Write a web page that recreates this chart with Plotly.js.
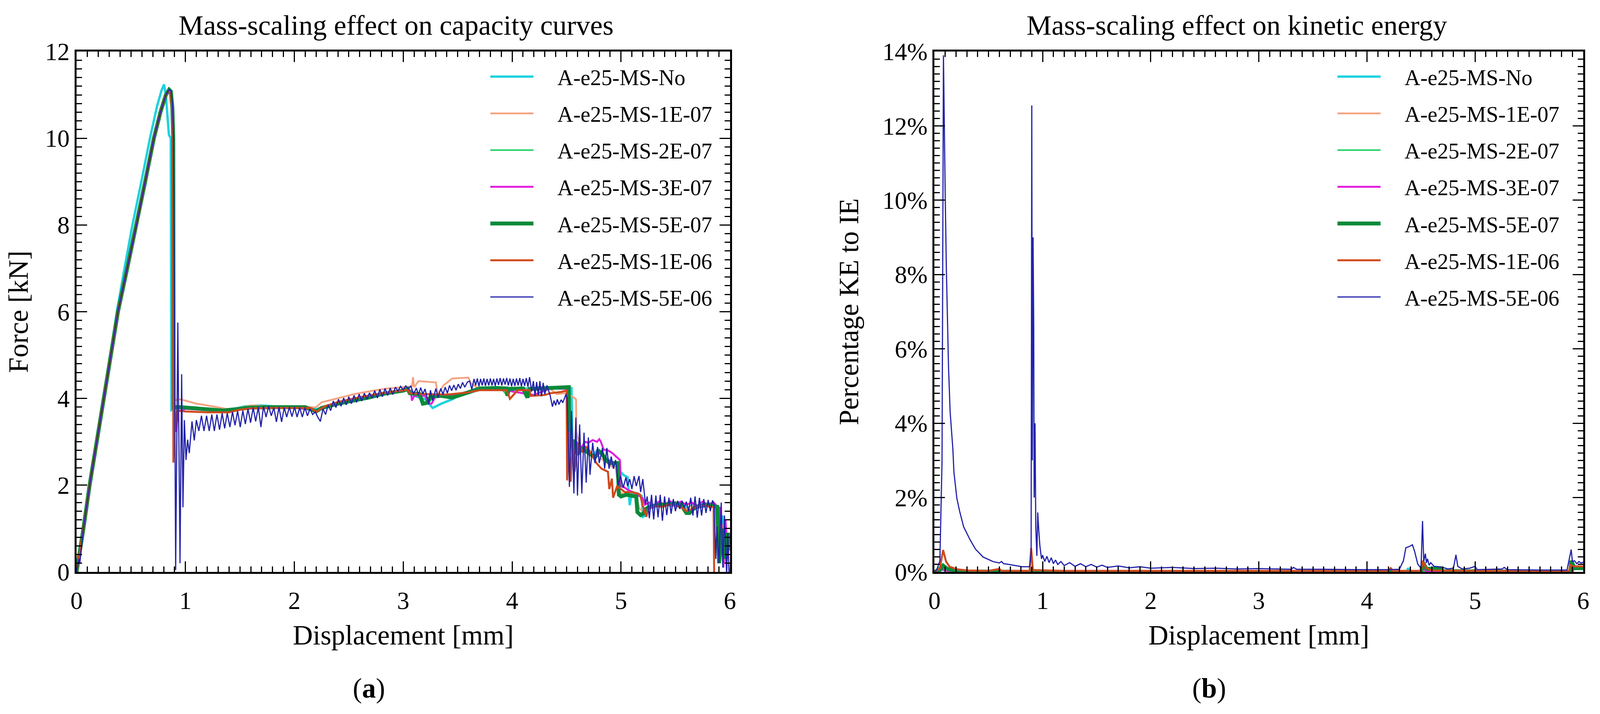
<!DOCTYPE html>
<html>
<head>
<meta charset="utf-8">
<script src="https://cdn.plot.ly/plotly-3.0.1.min.js"></script>
<style>
  html, body { margin: 0; padding: 0; background: #ffffff; overflow: hidden; }
  #chart { width: 100vw; height: 100vh; }
</style>
</head>
<body>
<div id="chart"></div>
<script>
// ---------------- DATA ----------------
const seriesNames = ['A-e25-MS-No','A-e25-MS-1E-07','A-e25-MS-2E-07','A-e25-MS-3E-07','A-e25-MS-5E-07','A-e25-MS-1E-06','A-e25-MS-5E-06'];
const xTickLabels = ['0','1','2','3','4','5','6'];
const forceTickLabels = ['0','2','4','6','8','10','12'];
const keTickLabels = ['0%','2%','4%','6%','8%','10%','12%','14%'];

// (a) Force [kN] vs Displacement [mm]  -- [displacement, force]
const forceNo = [[0,0],[0.03,0.45],[0.06,0.95],[0.12,2.0],[0.18,3.0],[0.245,4.0],[0.31,5.0],[0.37,6.0],[0.44,7.0],[0.513,8.0],[0.595,9.0],[0.674,10.0],[0.74,10.75],[0.78,11.1],[0.803,11.24],[0.82,11.0],[0.835,10.5],[0.848,10.08],[0.865,10.0],[0.871,3.73],[0.90,3.76],[0.95,3.78],[1.1,3.76],[1.3,3.74],[1.45,3.76],[1.55,3.82],[1.7,3.84],[1.8,3.82],[2.0,3.80],[2.2,3.75],[2.3,3.82],[2.5,3.92],[2.7,4.04],[2.9,4.14],[3.0,4.18],[3.05,4.20],[3.1,4.06],[3.2,3.98],[3.27,3.78],[3.35,3.88],[3.45,3.98],[3.5,4.06],[3.6,4.12],[3.7,4.20],[3.8,4.23],[4.0,4.23],[4.14,4.23],[4.15,4.02],[4.17,4.22],[4.3,4.26],[4.45,4.26],[4.545,4.24],[4.555,2.95],[4.58,3.00],[4.62,2.80],[4.66,2.90],[4.70,2.75],[4.74,2.70],[4.78,2.80],[4.82,2.71],[4.84,2.65],[4.88,2.60],[4.92,2.50],[4.95,2.40],[4.98,2.35],[5.02,2.24],[5.06,2.18],[5.08,1.54],[5.10,1.84],[5.15,1.81],[5.19,1.75],[5.20,1.27],[5.23,1.30],[5.26,1.55],[5.30,1.48],[5.34,1.60],[5.38,1.50],[5.42,1.58],[5.46,1.52],[5.50,1.60],[5.54,1.55],[5.58,1.52],[5.62,1.48],[5.66,1.56],[5.70,1.50],[5.74,1.60],[5.78,1.52],[5.82,1.58],[5.86,1.55],[5.88,1.50],[5.90,0.6],[5.93,1.3],[5.96,0.4],[6.0,0.9]];
const force1E07 = [[0,0],[0.03,0.45],[0.06,0.95],[0.12,2.0],[0.185,3.0],[0.25,4.0],[0.315,5.0],[0.38,6.0],[0.465,7.0],[0.55,8.0],[0.63,9.0],[0.71,10.0],[0.77,10.6],[0.82,11.0],[0.85,11.1],[0.865,11.08],[0.878,10.7],[0.885,10.0],[0.888,3.95],[0.95,3.98],[1.0,3.95],[1.1,3.88],[1.2,3.84],[1.3,3.79],[1.4,3.75],[1.5,3.78],[1.6,3.84],[1.7,3.83],[1.8,3.80],[2.0,3.79],[2.15,3.79],[2.2,3.80],[2.25,3.91],[2.4,4.01],[2.55,4.10],[2.7,4.17],[2.85,4.23],[3.0,4.26],[3.08,4.28],[3.09,4.49],[3.10,4.26],[3.14,4.40],[3.30,4.37],[3.315,4.09],[3.37,4.30],[3.45,4.46],[3.60,4.48],[3.62,4.35],[3.70,4.22],[3.8,4.24],[4.0,4.22],[4.2,4.20],[4.35,4.22],[4.41,4.10],[4.48,4.12],[4.55,4.05],[4.587,3.98],[4.59,3.24],[4.62,2.90],[4.66,2.84],[4.70,2.75],[4.74,2.65],[4.78,2.70],[4.82,2.60],[4.86,2.55],[4.90,2.45],[4.95,2.40],[4.98,1.85],[5.02,1.80],[5.08,1.78],[5.14,1.76],[5.17,1.45],[5.21,1.40],[5.25,1.52],[5.30,1.56],[5.35,1.50],[5.40,1.58],[5.45,1.53],[5.50,1.57],[5.55,1.50],[5.60,1.45],[5.65,1.52],[5.70,1.55],[5.75,1.50],[5.80,1.57],[5.85,1.52],[5.88,1.50],[5.90,0.4],[5.93,1.1],[5.96,0.2],[6.0,0.8]];
const force2E07 = [[0,0],[0.03,0.45],[0.06,0.95],[0.12,2.0],[0.185,3.0],[0.25,4.0],[0.315,5.0],[0.38,6.0],[0.465,7.0],[0.55,8.0],[0.63,9.0],[0.71,10.0],[0.77,10.6],[0.82,11.0],[0.85,11.12],[0.866,11.08],[0.878,10.7],[0.886,10.0],[0.89,3.78],[0.95,3.80],[1.1,3.77],[1.25,3.74],[1.4,3.73],[1.55,3.78],[1.7,3.80],[1.9,3.80],[2.1,3.79],[2.2,3.71],[2.27,3.80],[2.45,3.90],[2.6,3.98],[2.8,4.10],[3.0,4.18],[3.04,4.21],[3.07,4.10],[3.16,4.08],[3.19,3.90],[3.24,3.92],[3.28,4.05],[3.45,4.05],[3.6,4.14],[3.7,4.22],[3.9,4.23],[3.95,4.08],[3.98,4.22],[4.12,4.22],[4.14,4.04],[4.17,4.22],[4.35,4.24],[4.52,4.25],[4.53,2.95],[4.56,3.02],[4.60,2.74],[4.64,2.86],[4.68,2.76],[4.72,2.72],[4.76,2.66],[4.80,2.76],[4.84,2.70],[4.88,2.60],[4.93,2.52],[4.97,2.50],[4.98,1.80],[5.02,1.76],[5.07,1.79],[5.12,1.75],[5.145,1.74],[5.155,1.36],[5.19,1.32],[5.22,1.42],[5.26,1.52],[5.32,1.54],[5.38,1.56],[5.44,1.55],[5.50,1.57],[5.56,1.52],[5.60,1.37],[5.64,1.38],[5.68,1.48],[5.74,1.52],[5.80,1.54],[5.86,1.52],[5.885,1.50],[5.90,0.3],[5.93,1.0],[5.96,0.35],[6.0,0.7]];
const force3E07 = [[0,0],[0.03,0.45],[0.06,0.95],[0.12,2.0],[0.185,3.0],[0.25,4.0],[0.315,5.0],[0.38,6.0],[0.465,7.0],[0.55,8.0],[0.63,9.0],[0.71,10.0],[0.77,10.6],[0.82,11.0],[0.85,11.12],[0.866,11.1],[0.88,10.8],[0.895,10.2],[0.90,3.3],[0.915,3.24],[0.93,3.70],[1.0,3.76],[1.2,3.73],[1.4,3.72],[1.6,3.78],[1.8,3.80],[2.0,3.79],[2.2,3.72],[2.3,3.80],[2.5,3.92],[2.7,4.03],[2.9,4.13],[3.0,4.18],[3.07,4.18],[3.08,3.95],[3.10,4.06],[3.2,4.06],[3.23,3.88],[3.26,3.88],[3.3,4.06],[3.5,4.10],[3.6,4.16],[3.7,4.23],[3.95,4.20],[4.0,4.16],[4.1,4.12],[4.2,4.08],[4.35,4.23],[4.50,4.22],[4.505,4.2],[4.515,2.3],[4.54,3.2],[4.56,2.5],[4.59,3.0],[4.63,2.85],[4.67,3.00],[4.70,2.98],[4.74,3.04],[4.78,3.00],[4.80,3.06],[4.815,3.00],[4.84,2.82],[4.88,2.80],[4.92,2.74],[4.96,2.64],[4.99,2.58],[5.0,1.97],[5.03,1.95],[5.07,1.88],[5.11,1.84],[5.15,1.78],[5.20,1.70],[5.22,1.55],[5.26,1.60],[5.30,1.52],[5.35,1.62],[5.40,1.55],[5.45,1.63],[5.50,1.56],[5.55,1.62],[5.60,1.55],[5.65,1.60],[5.70,1.52],[5.75,1.62],[5.80,1.55],[5.85,1.60],[5.87,1.55],[5.89,0.5],[5.91,1.5],[5.94,0.1],[5.96,1.2],[5.98,0.3],[6.0,0.9]];
const force5E07 = [[0,0],[0.03,0.45],[0.06,0.95],[0.12,2.0],[0.185,3.0],[0.25,4.0],[0.315,5.0],[0.38,6.0],[0.465,7.0],[0.55,8.0],[0.63,9.0],[0.71,10.0],[0.77,10.6],[0.82,11.0],[0.85,11.12],[0.866,11.08],[0.88,10.7],[0.888,10.0],[0.892,3.80],[0.95,3.80],[1.1,3.78],[1.2,3.75],[1.35,3.72],[1.5,3.76],[1.6,3.79],[1.8,3.80],[2.0,3.79],[2.1,3.80],[2.2,3.70],[2.25,3.78],[2.4,3.88],[2.5,3.92],[2.6,3.98],[2.7,4.03],[2.8,4.10],[2.9,4.14],[3.0,4.18],[3.04,4.22],[3.06,4.12],[3.15,4.10],[3.18,3.88],[3.22,3.90],[3.25,4.04],[3.35,4.06],[3.45,4.02],[3.55,4.10],[3.65,4.18],[3.7,4.23],[3.85,4.24],[3.95,4.23],[3.956,4.06],[3.97,4.22],[4.1,4.23],[4.14,4.02],[4.16,4.22],[4.3,4.24],[4.4,4.26],[4.52,4.26],[4.525,2.90],[4.56,3.04],[4.60,2.71],[4.64,2.84],[4.68,2.78],[4.72,2.71],[4.76,2.64],[4.80,2.78],[4.83,2.71],[4.86,2.58],[4.90,2.51],[4.94,2.51],[4.97,2.51],[4.98,1.78],[5.0,1.74],[5.05,1.78],[5.10,1.76],[5.14,1.74],[5.15,1.38],[5.18,1.31],[5.21,1.35],[5.22,1.44],[5.26,1.50],[5.30,1.52],[5.35,1.55],[5.40,1.55],[5.45,1.56],[5.50,1.58],[5.55,1.55],[5.60,1.36],[5.63,1.36],[5.66,1.45],[5.70,1.50],[5.75,1.52],[5.80,1.55],[5.85,1.52],[5.885,1.50],[5.90,0.2],[5.93,1.0],[5.95,0.3],[5.98,0.9],[6.0,0.5]];
const force1E06 = [[0,0],[0.03,0.45],[0.06,0.95],[0.12,2.0],[0.185,3.0],[0.25,4.0],[0.315,5.0],[0.38,6.0],[0.465,7.0],[0.55,8.0],[0.63,9.0],[0.71,10.0],[0.77,10.6],[0.82,11.0],[0.85,11.1],[0.865,11.05],[0.878,10.6],[0.885,10.0],[0.889,2.52],[0.90,3.30],[0.92,3.72],[1.0,3.70],[1.2,3.68],[1.4,3.68],[1.5,3.74],[1.6,3.77],[1.8,3.78],[2.0,3.78],[2.15,3.78],[2.2,3.69],[2.28,3.82],[2.4,3.92],[2.6,4.03],[2.8,4.12],[3.0,4.18],[3.04,4.20],[3.06,4.12],[3.2,4.10],[3.4,4.09],[3.6,4.14],[3.7,4.19],[3.95,4.19],[3.98,3.99],[4.05,4.19],[4.16,4.19],[4.17,4.06],[4.30,4.08],[4.35,4.12],[4.45,4.15],[4.50,4.18],[4.505,2.11],[4.52,3.24],[4.538,2.08],[4.555,3.04],[4.573,2.31],[4.608,2.98],[4.644,2.78],[4.68,2.88],[4.715,2.78],[4.774,2.51],[4.821,2.38],[4.88,2.31],[4.892,1.91],[4.916,2.15],[4.927,1.71],[4.963,1.97],[5.0,1.91],[5.034,1.84],[5.093,1.84],[5.152,1.81],[5.175,1.78],[5.199,1.54],[5.234,1.27],[5.246,1.44],[5.27,1.47],[5.32,1.52],[5.38,1.50],[5.44,1.55],[5.50,1.52],[5.56,1.48],[5.60,1.40],[5.65,1.45],[5.70,1.50],[5.76,1.53],[5.82,1.50],[5.85,1.50],[5.856,-0.25]];
const force5E06 = [[0,0],[0.02,0.3],[0.03,0.2],[0.06,0.95],[0.12,2.0],[0.185,3.0],[0.25,4.0],[0.315,5.0],[0.38,6.0],[0.465,7.0],[0.55,8.0],[0.63,9.0],[0.71,10.0],[0.77,10.6],[0.82,11.0],[0.85,11.12],[0.866,11.1],[0.88,10.8],[0.89,10.0],[0.91,0.04],[0.93,5.75],[0.95,0.2],[0.965,4.56],[0.977,1.49],[0.99,3.5],[1.005,2.58],[1.02,3.05],[1.035,2.74],[1.06,3.47],[1.081,3.03],[1.10,3.50],
[1.123,3.25],[1.147,3.60],[1.170,3.25],[1.194,3.60],[1.218,3.25],[1.242,3.63],[1.265,3.25],[1.289,3.63],[1.313,3.28],[1.337,3.66],[1.360,3.31],[1.384,3.66],[1.408,3.34],[1.432,3.69],[1.455,3.38],[1.479,3.71],[1.503,3.34],[1.527,3.72],[1.550,3.41],[1.574,3.76],[1.598,3.44],[1.622,3.79],[1.645,3.47],[1.669,3.80],[1.693,3.34],[1.717,3.82],[1.740,3.57],[1.764,3.82],[1.788,3.60],[1.812,3.79],[1.835,3.46],[1.859,3.80],[1.883,3.46],[1.907,3.79],[1.930,3.57],[1.954,3.80],[1.978,3.58],[2.002,3.80],[2.025,3.57],[2.049,3.79],[2.073,3.57],[2.097,3.79],[2.120,3.60],[2.144,3.76],[2.168,3.63],[2.192,3.69],[2.215,3.57],[2.239,3.47],[2.263,3.76],[2.287,3.63],[2.310,3.85],[2.334,3.72],[2.358,3.94],[2.382,3.79],[2.405,3.98],[2.429,3.82],[2.453,4.01],[2.477,3.85],[2.500,4.04],[2.524,3.88],[2.548,4.07],[2.572,3.91],[2.595,4.10],[2.619,3.94],[2.643,4.12],[2.667,3.98],[2.690,4.13],[2.714,4.01],[2.738,4.18],[2.762,4.01],[2.785,4.21],[2.809,4.04],[2.833,4.23],[2.857,4.07],[2.880,4.24],[2.904,4.09],[2.928,4.26],[2.952,4.17],[2.975,4.28],[2.999,4.20],[3.023,4.29],[3.047,4.22],[3.070,4.29],[3.094,4.10],
[3.12,4.24],[3.14,4.08],[3.16,4.25],[3.18,4.10],[3.20,4.22],[3.234,3.87],[3.25,4.19],[3.27,3.95],[3.30,4.23],[3.32,4.02],[3.345,4.23],[3.365,4.09],[3.385,4.26],[3.405,4.12],[3.425,4.30],[3.445,4.18],[3.465,4.31],[3.485,4.19],[3.505,4.33],[3.525,4.23],[3.545,4.37],[3.565,4.26],[3.59,4.38],[3.61,4.40],[3.63,4.21],[3.65,4.45],[3.665,4.30],[3.68,4.46],[3.695,4.28],[3.71,4.45],[3.725,4.30],[3.74,4.46],[3.755,4.29],[3.77,4.45],[3.785,4.30],[3.80,4.46],[3.815,4.30],[3.83,4.45],[3.845,4.29],[3.86,4.46],[3.875,4.31],[3.89,4.47],[3.905,4.30],[3.92,4.46],[3.935,4.32],[3.95,4.47],[3.965,4.30],[3.98,4.46],[3.995,4.28],[4.01,4.45],[4.025,4.29],[4.04,4.46],[4.055,4.30],[4.07,4.47],[4.085,4.28],[4.10,4.45],[4.115,4.29],[4.13,4.47],[4.145,4.27],[4.16,4.49],[4.18,4.16],[4.195,4.40],[4.21,4.06],[4.225,4.38],[4.24,4.08],[4.255,4.40],[4.27,4.05],[4.285,4.36],[4.30,4.10],[4.32,4.30],[4.35,4.06],[4.37,3.81],[4.385,3.95],[4.40,3.84],[4.415,3.98],[4.43,3.86],[4.45,3.97],[4.465,3.90],[4.48,4.00],[4.495,4.10],[4.505,4.0],
[4.526,1.96],[4.545,3.71],[4.567,1.81],[4.585,3.56],[4.60,1.76],[4.62,3.40],[4.64,1.81],[4.66,3.21],[4.68,2.06],[4.70,3.10],[4.715,2.24],[4.74,2.98],[4.76,2.51],[4.785,2.88],[4.80,2.51],[4.83,2.86],[4.85,2.38],[4.87,2.86],[4.89,2.38],[4.91,2.66],[4.93,2.38],[4.95,2.58],[4.975,2.0],[4.995,2.21],[5.02,1.94],[5.045,2.18],[5.06,1.98],[5.08,2.14],[5.10,1.91],[5.12,2.21],[5.14,1.98],[5.165,2.21],[5.18,1.84],[5.20,2.14],[5.225,1.56],[5.24,1.74],[5.26,1.24],[5.28,1.78],[5.30,1.21],[5.32,1.76],[5.34,1.26],[5.36,1.78],[5.38,1.18],[5.40,1.74],[5.42,1.31],[5.44,1.71],[5.46,1.34],[5.48,1.68],[5.50,1.40],[5.52,1.64],[5.54,1.45],[5.56,1.64],[5.58,1.48],[5.60,1.62],[5.62,1.40],[5.64,1.71],[5.66,1.30],[5.68,1.74],[5.70,1.25],[5.72,1.71],[5.74,1.30],[5.76,1.68],[5.78,1.36],[5.80,1.66],[5.82,1.40],[5.84,1.65],[5.855,1.55],[5.87,0.3],[5.88,1.05],[5.90,0.2],[5.92,1.6],[5.935,0.1],[5.95,1.3],[5.97,-0.1],[5.98,0.9],[5.995,-0.3],[6.01,0.5]];

// (b) Percentage KE to IE [%] vs Displacement [mm]  -- [displacement, percent]
const keNo = [[0,0],[0.04,0.10],[0.08,0.05],[0.2,0.01],[4.37,0.01],[4.38,0.10],[4.40,0.01],[5.90,0.01],[5.92,0.15],[6.0,0.12]];
const ke1E07 = [[0,0],[0.06,0.10],[0.15,0.02],[0.89,0.02],[0.90,0.10],[0.92,0.02],[4.58,0.02],[4.60,0.12],[4.65,0.02],[5.90,0.02],[5.92,0.12],[6.0,0.10]];
const ke2E07 = [[0,0],[0.04,0.12],[0.10,0.04],[0.20,0.01],[5.90,0.01],[5.92,0.10],[6.0,0.08]];
const ke3E07 = [[0,0],[0.05,0.08],[0.12,0.03],[0.30,0.01],[4.50,0.01],[4.51,0.10],[4.55,0.02],[5.90,0.02],[5.92,0.10],[6.0,0.08]];
const ke5E07 = [[0,0],[0.05,0.05],[0.08,0.17],[0.12,0.08],[0.20,0.03],[0.30,0.01],[0.88,0.0],[0.90,0.07],[0.92,0.0],[3.20,0.0],[3.40,0.02],[3.50,0.0],[4.50,0.0],[4.52,0.25],[4.55,0.08],[4.68,0.10],[4.70,0.02],[5.88,0.0],[5.89,0.30],[5.92,0.10],[6.0,0.10]];
const ke1E06 = [[0,0],[0.05,0.10],[0.08,0.59],[0.107,0.28],[0.14,0.14],[0.21,0.07],[0.30,0.04],[0.50,0.03],[0.60,0.08],[0.62,0.03],[0.88,0.03],[0.894,0.64],[0.91,0.05],[1.2,0.03],[2.0,0.03],[3.0,0.03],[4.2,0.03],[4.22,0.10],[4.24,0.03],[4.50,0.03],[4.515,0.30],[4.55,0.10],[4.60,0.04],[5.0,0.03],[5.87,0.03],[5.88,0.20],[5.90,0.15],[6.0,0.15]];
const ke5E06 = [[0,0],[0.02,0.05],[0.05,0.3],[0.07,3.0],[0.083,13.9],[0.093,11.45],[0.10,10.0],[0.11,8.15],[0.12,6.7],[0.13,5.5],[0.145,4.3],[0.16,3.7],[0.17,3.31],[0.18,2.68],[0.207,1.98],[0.233,1.63],[0.27,1.21],[0.33,0.86],[0.38,0.61],[0.45,0.40],[0.54,0.28],[0.60,0.24],[0.62,0.28],[0.64,0.22],[0.67,0.21],[0.81,0.14],[0.88,0.14],[0.894,0.5],[0.900,12.55],[0.905,3.0],[0.912,9.0],[0.918,6.63],[0.922,2.0],[0.93,4.0],[0.937,1.2],[0.947,0.43],[0.955,1.6],[0.965,1.1],[0.975,0.7],[0.99,0.35],[1.00,0.45],[1.02,0.28],[1.04,0.42],[1.06,0.25],[1.08,0.38],[1.10,0.22],[1.12,0.32],[1.14,0.20],[1.17,0.28],[1.20,0.17],[1.25,0.25],[1.30,0.15],[1.35,0.22],[1.40,0.14],[1.45,0.20],[1.50,0.13],[1.55,0.18],[1.60,0.12],[1.70,0.16],[1.80,0.11],[1.90,0.14],[2.0,0.10],[2.2,0.12],[2.4,0.09],[2.6,0.10],[2.8,0.08],[3.0,0.09],[3.3,0.07],[3.32,0.12],[3.35,0.07],[3.6,0.07],[3.9,0.06],[4.2,0.06],[4.3,0.07],[4.337,0.3],[4.36,0.65],[4.39,0.68],[4.42,0.73],[4.44,0.56],[4.47,0.21],[4.50,0.10],[4.514,1.37],[4.525,0.28],[4.54,0.49],[4.55,0.24],[4.56,0.35],[4.575,0.18],[4.59,0.25],[4.62,0.15],[4.66,0.14],[4.70,0.12],[4.75,0.08],[4.80,0.10],[4.823,0.46],[4.84,0.15],[4.88,0.08],[4.95,0.10],[5.0,0.15],[5.02,0.06],[5.25,0.08],[5.27,0.12],[5.30,0.06],[5.6,0.05],[5.85,0.05],[5.889,0.60],[5.90,0.28],[5.92,0.30],[5.94,0.22],[5.96,0.28],[5.98,0.24],[6.0,0.26]];

// ---------------- STYLE ----------------
const seriesColors = ['#1fd2de','#f5a27f','#22d068','#e21fe0','#0b8a3a','#cf4a1c','#2323aa'];
const seriesWidths = [6, 4.5, 4, 5, 10, 5, 3];
const FONT = '"Liberation Serif", "Times New Roman", serif';

// the page is laid out for 4154 x 1829 and scaled to the real viewport
const W = window.innerWidth || 4154;
const H = window.innerHeight || 1829;
const sx = W / 4154, sy = H / 1829, sf = Math.min(sx, sy);

const forceSeries = [forceNo, force1E07, force2E07, force3E07, force5E07, force1E06, force5E06];
const keSeries = [keNo, ke1E07, ke2E07, ke3E07, ke5E07, ke1E06, ke5E06];

const traces = [];
forceSeries.forEach((s, i) => {
  traces.push({type: 'scatter', mode: 'lines', name: seriesNames[i],
    x: s.map(p => p[0]), y: s.map(p => p[1]), xaxis: 'x', yaxis: 'y',
    line: {color: seriesColors[i], width: seriesWidths[i]},
    legend: 'legend', legendgroup: 'a' + i, showlegend: true});
});
keSeries.forEach((s, i) => {
  traces.push({type: 'scatter', mode: 'lines', name: seriesNames[i],
    x: s.map(p => p[0]), y: s.map(p => p[1]), xaxis: 'x2', yaxis: 'y2',
    line: {color: seriesColors[i], width: seriesWidths[i]},
    legend: 'legend2', legendgroup: 'b' + i, showlegend: true});
});

const tickFont = {family: FONT, size: 64 * sf, color: '#000'};
const titleFont = {family: FONT, size: 72 * sf, color: '#000'};
function axisBase(labels, minorStep) {
  const v = labels.map(t => parseFloat(t));
  return {
    showline: true, linewidth: 5, linecolor: '#000', mirror: 'allticks',
    ticks: 'inside', ticklen: 27 * sf, tickwidth: 3, tickcolor: '#000',
    showgrid: false, zeroline: false, tickfont: tickFont,
    tickmode: 'linear', tick0: v[0], dtick: v[1] - v[0],
    range: [v[0], v[v.length - 1]],
    minor: {ticks: 'inside', ticklen: 14 * sf, tickwidth: 3, tickcolor: '#000', showgrid: false,
            tickmode: 'linear', tick0: v[0], dtick: minorStep}
  };
}

// inner plotting width (at 4154 px) = 4154 - 199 - 44 = 3911 px
const xaxis = Object.assign(axisBase(xTickLabels, 0.1), {
  domain: [0, 0.43365], ticklabelstandoff: 14 * sy,
  title: {text: 'Displacement [mm]', font: titleFont, standoff: 30 * sy}, anchor: 'y'
});
const xaxis2 = Object.assign(axisBase(xTickLabels, 0.1), {
  domain: [0.56942, 1], ticklabelstandoff: 14 * sy,
  title: {text: 'Displacement [mm]', font: titleFont, standoff: 30 * sy}, anchor: 'y2'
});
const yaxis = Object.assign(axisBase(forceTickLabels, 0.2), {
  domain: [0, 1],
  title: {text: 'Force [kN]', font: titleFont, standoff: 22 * sx}, anchor: 'x'
});
const yaxis2 = Object.assign(axisBase(keTickLabels, 0.2), {
  domain: [0, 1], ticksuffix: '%',
  title: {text: 'Percentage KE to IE', font: titleFont, standoff: 40 * sx}, anchor: 'x2'
});

const legendBase = {
  font: {family: FONT, size: 57 * sf, color: '#000'}, bgcolor: 'rgba(0,0,0,0)', borderwidth: 0,
  itemwidth: 169 * sx, tracegroupgap: 18 * sy, yanchor: 'top', xanchor: 'left', orientation: 'v'
};

const layout = {
  width: W, height: H,
  margin: {l: 199 * sx, r: 44 * sx, t: 132 * sy, b: 364 * sy},
  paper_bgcolor: '#fff', plot_bgcolor: '#fff',
  font: {family: FONT, color: '#000'},
  showlegend: true,
  xaxis: xaxis, yaxis: yaxis, xaxis2: xaxis2, yaxis2: yaxis2,
  legend: Object.assign({}, legendBase, {x: 0.27333, y: 0.984}),
  legend2: Object.assign({}, legendBase, {x: 0.83559, y: 0.984}),
  annotations: [
    {text: 'Mass-scaling effect on capacity curves', xref: 'paper', yref: 'paper', x: 0.21197, y: 1.0503,
     xanchor: 'center', yanchor: 'middle', showarrow: false, font: {family: FONT, size: 73 * sf, color: '#000'}},
    {text: 'Mass-scaling effect on kinetic energy', xref: 'paper', yref: 'paper', x: 0.77013, y: 1.0503,
     xanchor: 'center', yanchor: 'middle', showarrow: false, font: {family: FONT, size: 73 * sf, color: '#000'}},
    {text: '(<b>a</b>)', xref: 'paper', yref: 'paper', x: 0.19407, y: -0.2236,
     xanchor: 'center', yanchor: 'middle', showarrow: false, font: {family: FONT, size: 72 * sf, color: '#000'}},
    {text: '(<b>b</b>)', xref: 'paper', yref: 'paper', x: 0.75173, y: -0.2236,
     xanchor: 'center', yanchor: 'middle', showarrow: false, font: {family: FONT, size: 72 * sf, color: '#000'}}
  ]
};

Plotly.newPlot('chart', traces, layout, {staticPlot: true, displayModeBar: false}).then(function (gd) {
  // shorten the legend sample lines so a gap remains before the label, as in the reference
  var len = (112 * sx).toFixed(1);
  gd.querySelectorAll('.legendlines path').forEach(function (p) {
    var d = p.getAttribute('d') || '';
    p.setAttribute('d', d.replace(/h[-\d.]+/, 'h' + len));
  });
});
</script>
</body>
</html>
